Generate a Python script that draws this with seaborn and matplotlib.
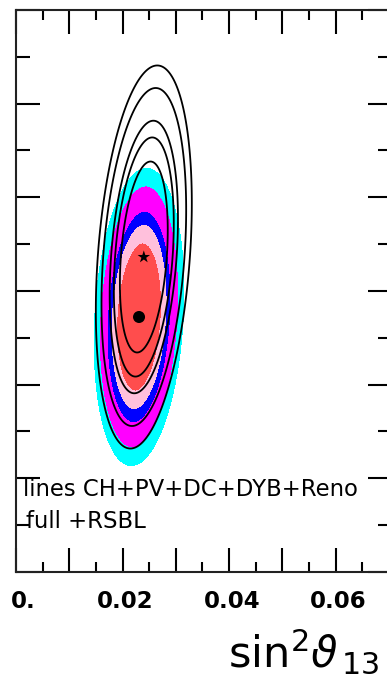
import numpy as np
import seaborn as sns
import matplotlib.pyplot as plt
import matplotlib.transforms as mtransforms
from matplotlib.ticker import MultipleLocator

# chi2 levels of the contours (same set for fills and lines)
levels = [2.94, 4.61, 5.99, 9.21, 11.83]
fill_colors = ['#ff4d4d', '#ffc0dc', '#0000ff', '#ff00ff', '#00ffff']

# full fit (+RSBL): best fit, widths, correlation
full_best = [0.0231, 2.3445]
full_sig = [0.00245, 0.0922]
full_rho = 0.17

# lines: CH+PV+DC+DYB+Reno
lines_best = [0.0240, 2.4726]
lines_sig = [0.00262, 0.1189]
lines_rho = 0.28

major_x = [0.0, 0.01, 0.02, 0.03, 0.04, 0.05, 0.06, 0.07]
labelled_x = {0.0: '0.', 0.02: '0.02', 0.04: '0.04', 0.06: '0.06'}


def chi2(X, Y, best, sig, rho):
    dx = (X - best[0]) / sig[0]
    dy = (Y - best[1]) / sig[1]
    return (dx**2 - 2 * rho * dx * dy + dy**2) / (1 - rho**2)


sns.set_style('ticks')
plt.rcParams['font.family'] = ['DejaVu Sans']
plt.rcParams['mathtext.fontset'] = 'dejavusans'
plt.rcParams['text.color'] = 'black'
plt.rcParams['xtick.color'] = 'black'
plt.rcParams['ytick.color'] = 'black'

fig = plt.figure(figsize=(3.87, 6.92), dpi=100)
ax = fig.add_axes([16 / 387, 120 / 692, 376 / 387, 562 / 692])

xs = np.linspace(0, 0.0706, 700)
ys = np.linspace(1.8, 3.0, 900)
X, Y = np.meshgrid(xs, ys)

ax.contourf(X, Y, chi2(X, Y, full_best, full_sig, full_rho),
            levels=[0] + levels, colors=fill_colors)
ax.contour(X, Y, chi2(X, Y, lines_best, lines_sig, lines_rho),
           levels=levels, colors='black', linewidths=1.3)

sns.scatterplot(x=[full_best[0]], y=[full_best[1]], marker='o', s=75,
                color='black', edgecolor='none', ax=ax, zorder=5)
sns.scatterplot(x=[lines_best[0]], y=[lines_best[1]], marker='*', s=90,
                color='black', edgecolor='none', ax=ax, zorder=5)

ax.set_xlim(0, 0.0706)
ax.set_ylim(1.8, 3.0)
ax.set_xticks(major_x, [labelled_x.get(round(t, 3), '') for t in major_x])
ax.xaxis.set_minor_locator(MultipleLocator(0.005))
ax.yaxis.set_major_locator(MultipleLocator(0.2))
ax.yaxis.set_minor_locator(MultipleLocator(0.1))
ax.set_yticklabels([])

ax.tick_params(axis='x', which='major', direction='in', length=17, width=1.5,
               top=True, bottom=True, pad=13, labelsize=16.5)
ax.tick_params(axis='x', which='minor', direction='in', length=7.5, width=1.5,
               top=True, bottom=True)
ax.tick_params(axis='y', which='major', direction='in', length=17, width=1.5,
               left=True, right=True)
ax.tick_params(axis='y', which='minor', direction='in', length=10, width=1.5,
               left=True, right=True)
for i, lab in enumerate(ax.get_xticklabels()):
    lab.set_fontweight('bold')
    shift = 7 if i == 0 else 3
    lab.set_transform(lab.get_transform() +
                      mtransforms.ScaledTranslation(shift / 100, 0, fig.dpi_scale_trans))
for s in ax.spines.values():
    s.set_linewidth(1.5)
    s.set_color('#222222')
ax.spines['right'].set_visible(False)
ax.set_xlabel('')
ax.set_ylabel('')

fig.text(23 / 387, (692 - 496) / 692, 'lines CH+PV+DC+DYB+Reno', fontsize=16.4,
         va='baseline', ha='left')
fig.text(26 / 387, (692 - 528) / 692, 'full +RSBL', fontsize=16.4,
         va='baseline', ha='left')
fig.text(228 / 387, (692 - 667) / 692, r'$\mathregular{sin}^2\vartheta_{\,13}$',
         fontsize=31, va='baseline', ha='left')

fig.savefig('out.png', dpi=100)
